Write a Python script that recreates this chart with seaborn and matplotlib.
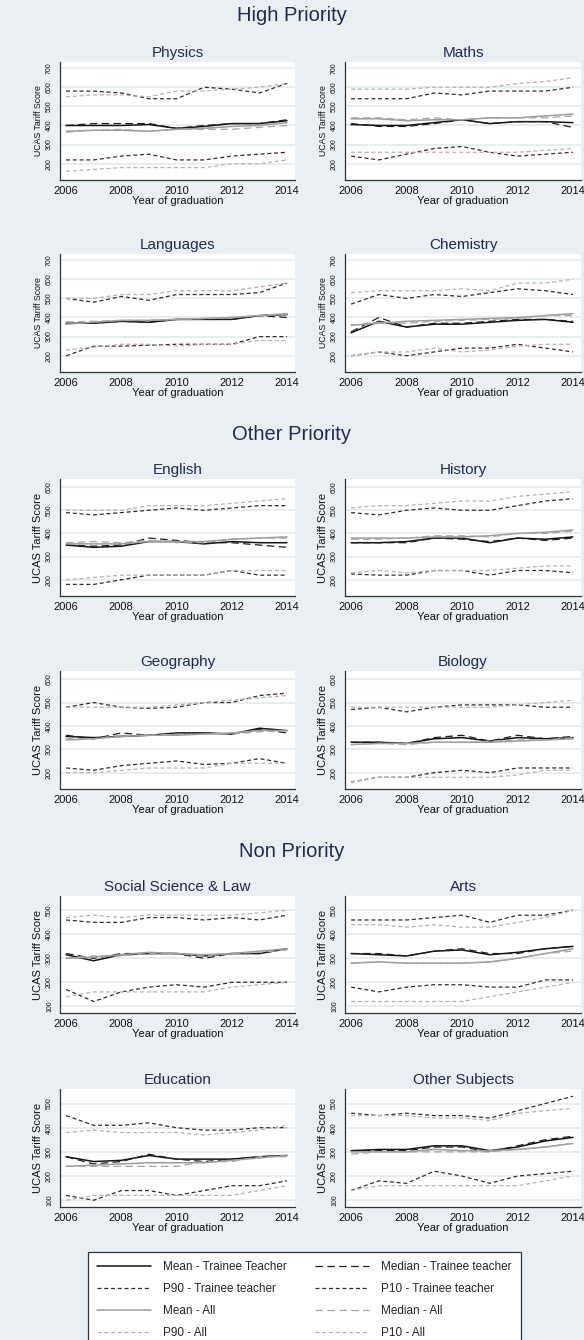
import matplotlib
matplotlib.use("Agg")
import matplotlib.pyplot as plt
from matplotlib.lines import Line2D
import pandas as pd
import seaborn as sns

# ---------------------------------------------------------------- data
years = [2006, 2007, 2008, 2009, 2010, 2011, 2012, 2013, 2014]

series_names = [
    "Mean - Trainee Teacher", "Median - Trainee teacher",
    "P90 - Trainee teacher", "P10 - Trainee teacher",
    "Mean - All", "Median - All", "P90 - All", "P10 - All",
]

# order of each block: mean TT, median TT, P90 TT, P10 TT, mean All, median All, P90 All, P10 All
physics_mean_tt = [400, 400, 400, 405, 385, 395, 410, 410, 425]
physics_median_tt = [400, 410, 410, 410, 385, 400, 410, 410, 430]
physics_p90_tt = [580, 580, 570, 540, 540, 600, 590, 570, 620]
physics_p10_tt = [220, 220, 240, 250, 220, 220, 240, 250, 260]
physics_mean_all = [370, 375, 375, 370, 380, 385, 395, 400, 415]
physics_median_all = [365, 375, 380, 370, 380, 380, 380, 390, 400]
physics_p90_all = [550, 560, 560, 550, 580, 580, 590, 600, 620]
physics_p10_all = [160, 170, 180, 180, 180, 180, 200, 200, 220]

maths_mean_tt = [405, 400, 400, 415, 430, 410, 420, 420, 415]
maths_median_tt = [410, 395, 395, 410, 430, 410, 420, 420, 390]
maths_p90_tt = [540, 540, 540, 570, 560, 580, 580, 580, 600]
maths_p10_tt = [240, 220, 250, 280, 290, 260, 240, 250, 260]
maths_mean_all = [435, 435, 425, 430, 430, 440, 440, 450, 460]
maths_median_all = [440, 440, 430, 440, 430, 440, 440, 440, 450]
maths_p90_all = [590, 590, 590, 600, 600, 600, 620, 630, 650]
maths_p10_all = [260, 260, 260, 260, 260, 260, 260, 270, 280]

languages_mean_tt = [370, 370, 380, 375, 390, 390, 390, 410, 415]
languages_median_tt = [375, 370, 380, 375, 390, 390, 390, 410, 400]
languages_p90_tt = [500, 480, 510, 490, 520, 520, 520, 530, 580]
languages_p10_tt = [200, 250, 250, 255, 260, 260, 260, 300, 300]
languages_mean_all = [365, 375, 385, 385, 390, 395, 400, 410, 420]
languages_median_all = [375, 380, 385, 385, 390, 395, 400, 410, 415]
languages_p90_all = [500, 500, 520, 520, 540, 540, 540, 560, 580]
languages_p10_all = [230, 245, 260, 260, 250, 260, 260, 280, 280]

chemistry_mean_tt = [320, 380, 350, 365, 365, 375, 385, 390, 375]
chemistry_median_tt = [325, 400, 350, 370, 370, 380, 390, 390, 380]
chemistry_p90_tt = [470, 520, 500, 520, 510, 530, 550, 540, 520]
chemistry_p10_tt = [200, 220, 200, 220, 240, 240, 260, 240, 220]
chemistry_mean_all = [360, 370, 380, 385, 390, 395, 400, 410, 420]
chemistry_median_all = [360, 375, 370, 380, 385, 390, 395, 410, 410]
chemistry_p90_all = [530, 540, 540, 540, 550, 540, 580, 580, 600]
chemistry_p10_all = [200, 220, 220, 240, 220, 230, 250, 260, 260]

english_mean_tt = [350, 340, 345, 365, 365, 355, 365, 360, 360]
english_median_tt = [350, 345, 350, 380, 370, 360, 360, 350, 340]
english_p90_tt = [490, 480, 490, 500, 510, 500, 510, 520, 520]
english_p10_tt = [180, 180, 200, 220, 220, 220, 240, 220, 220]
english_mean_all = [355, 355, 355, 365, 365, 365, 375, 380, 385]
english_median_all = [360, 365, 360, 370, 360, 360, 375, 380, 380]
english_p90_all = [500, 500, 500, 520, 520, 520, 530, 540, 550]
english_p10_all = [200, 210, 220, 220, 220, 220, 240, 240, 240]

history_mean_tt = [360, 360, 365, 380, 380, 360, 380, 375, 385]
history_median_tt = [360, 360, 360, 380, 375, 365, 380, 370, 380]
history_p90_tt = [490, 480, 500, 510, 500, 500, 520, 540, 550]
history_p10_tt = [225, 220, 220, 240, 240, 220, 240, 240, 230]
history_mean_all = [380, 380, 380, 385, 385, 390, 400, 405, 415]
history_median_all = [375, 375, 380, 390, 390, 385, 400, 400, 410]
history_p90_all = [510, 520, 520, 530, 540, 540, 560, 570, 580]
history_p10_all = [230, 240, 230, 240, 240, 240, 250, 260, 260]

geography_mean_tt = [355, 350, 355, 360, 370, 370, 365, 390, 380]
geography_median_tt = [360, 345, 370, 360, 365, 370, 365, 385, 370]
geography_p90_tt = [480, 500, 480, 475, 480, 500, 500, 530, 540]
geography_p10_tt = [220, 210, 230, 240, 250, 235, 240, 260, 240]
geography_mean_all = [340, 345, 355, 360, 360, 365, 370, 380, 380]
geography_median_all = [345, 345, 360, 360, 365, 365, 365, 375, 380]
geography_p90_all = [480, 480, 480, 480, 490, 500, 510, 520, 530]
geography_p10_all = [200, 200, 210, 220, 220, 220, 240, 240, 240]

biology_mean_tt = [330, 330, 325, 345, 350, 335, 350, 345, 350]
biology_median_tt = [330, 330, 325, 350, 360, 335, 360, 345, 355]
biology_p90_tt = [470, 480, 460, 480, 490, 490, 490, 480, 480]
biology_p10_tt = [160, 180, 180, 200, 210, 200, 220, 220, 220]
biology_mean_all = [320, 325, 325, 330, 330, 330, 335, 340, 345]
biology_median_all = [320, 325, 320, 330, 330, 335, 340, 340, 350]
biology_p90_all = [480, 480, 480, 480, 480, 480, 490, 500, 510]
biology_p10_all = [160, 180, 180, 180, 180, 180, 190, 210, 210]

socsci_mean_tt = [315, 290, 315, 320, 320, 310, 320, 320, 340]
socsci_median_tt = [320, 300, 320, 320, 320, 300, 320, 320, 340]
socsci_p90_tt = [460, 450, 450, 470, 470, 460, 470, 460, 480]
socsci_p10_tt = [170, 120, 160, 180, 190, 180, 200, 200, 200]
socsci_mean_all = [300, 305, 315, 325, 320, 315, 320, 330, 340]
socsci_median_all = [300, 310, 310, 320, 320, 310, 320, 325, 335]
socsci_p90_all = [470, 480, 470, 480, 480, 480, 480, 490, 500]
socsci_p10_all = [140, 160, 160, 160, 160, 160, 180, 190, 200]

arts_mean_tt = [320, 315, 310, 330, 335, 315, 325, 340, 350]
arts_median_tt = [320, 320, 310, 330, 340, 320, 320, 340, 350]
arts_p90_tt = [460, 460, 460, 470, 480, 450, 480, 480, 500]
arts_p10_tt = [180, 160, 180, 190, 190, 180, 180, 210, 210]
arts_mean_all = [280, 285, 280, 280, 280, 285, 300, 320, 340]
arts_median_all = [280, 285, 280, 280, 280, 285, 300, 320, 330]
arts_p90_all = [440, 440, 430, 440, 430, 430, 450, 470, 500]
arts_p10_all = [120, 120, 120, 120, 120, 140, 160, 180, 200]

education_mean_tt = [280, 260, 265, 285, 270, 270, 270, 280, 285]
education_median_tt = [280, 250, 260, 290, 270, 260, 270, 280, 285]
education_p90_tt = [450, 410, 410, 420, 400, 390, 390, 400, 400]
education_p10_tt = [120, 100, 140, 140, 120, 140, 160, 160, 180]
education_mean_all = [240, 245, 250, 255, 255, 255, 265, 275, 285]
education_median_all = [240, 240, 240, 240, 240, 260, 260, 280, 280]
education_p90_all = [380, 390, 380, 380, 380, 370, 380, 390, 410]
education_p10_all = [100, 120, 120, 120, 120, 120, 120, 140, 160]

other_mean_tt = [305, 310, 310, 325, 325, 305, 320, 345, 360]
other_median_tt = [305, 305, 305, 320, 320, 300, 325, 350, 365]
other_p90_tt = [460, 450, 460, 450, 450, 440, 470, 500, 530]
other_p10_tt = [140, 180, 170, 220, 200, 170, 200, 210, 220]
other_mean_all = [300, 300, 300, 310, 305, 305, 310, 320, 335]
other_median_all = [290, 300, 300, 300, 300, 300, 310, 320, 335]
other_p90_all = [450, 450, 450, 440, 440, 430, 460, 470, 480]
other_p10_all = [140, 160, 160, 160, 160, 160, 160, 180, 200]

section_titles = ["High Priority", "Other Priority", "Non Priority"]
subject_titles = ["Physics", "Maths", "Languages", "Chemistry",
                  "English", "History", "Geography", "Biology",
                  "Social Science & Law", "Arts", "Education", "Other Subjects"]
x_ticks = [2006, 2008, 2010, 2012, 2014]
y_ticks_high = [200, 300, 400, 500, 600, 700]
y_ticks_other = [200, 300, 400, 500, 600]
y_ticks_non = [100, 200, 300, 400, 500]

subject_series = {
    "Physics": [physics_mean_tt, physics_median_tt, physics_p90_tt, physics_p10_tt,
                physics_mean_all, physics_median_all, physics_p90_all, physics_p10_all],
    "Maths": [maths_mean_tt, maths_median_tt, maths_p90_tt, maths_p10_tt,
              maths_mean_all, maths_median_all, maths_p90_all, maths_p10_all],
    "Languages": [languages_mean_tt, languages_median_tt, languages_p90_tt, languages_p10_tt,
                  languages_mean_all, languages_median_all, languages_p90_all, languages_p10_all],
    "Chemistry": [chemistry_mean_tt, chemistry_median_tt, chemistry_p90_tt, chemistry_p10_tt,
                  chemistry_mean_all, chemistry_median_all, chemistry_p90_all, chemistry_p10_all],
    "English": [english_mean_tt, english_median_tt, english_p90_tt, english_p10_tt,
                english_mean_all, english_median_all, english_p90_all, english_p10_all],
    "History": [history_mean_tt, history_median_tt, history_p90_tt, history_p10_tt,
                history_mean_all, history_median_all, history_p90_all, history_p10_all],
    "Geography": [geography_mean_tt, geography_median_tt, geography_p90_tt, geography_p10_tt,
                  geography_mean_all, geography_median_all, geography_p90_all, geography_p10_all],
    "Biology": [biology_mean_tt, biology_median_tt, biology_p90_tt, biology_p10_tt,
                biology_mean_all, biology_median_all, biology_p90_all, biology_p10_all],
    "Social Science & Law": [socsci_mean_tt, socsci_median_tt, socsci_p90_tt, socsci_p10_tt,
                             socsci_mean_all, socsci_median_all, socsci_p90_all, socsci_p10_all],
    "Arts": [arts_mean_tt, arts_median_tt, arts_p90_tt, arts_p10_tt,
             arts_mean_all, arts_median_all, arts_p90_all, arts_p10_all],
    "Education": [education_mean_tt, education_median_tt, education_p90_tt, education_p10_tt,
                  education_mean_all, education_median_all, education_p90_all, education_p10_all],
    "Other Subjects": [other_mean_tt, other_median_tt, other_p90_tt, other_p10_tt,
                       other_mean_all, other_median_all, other_p90_all, other_p10_all],
}

# ---------------------------------------------------------------- style
sns.set_style("white")
plt.rcParams["font.family"] = ["Liberation Sans", "DejaVu Sans"]

BG = "#e9eff2"
NAVY = "#1f2c4d"
GRID = "#e4edf0"
AXIS = "#333333"

LONG = (0, (6.0, 3.5))
SHORT = (0, (3.2, 2.2))
line_styles = {
    "Mean - Trainee Teacher": dict(color="#141414", linewidth=1.1, linestyle="-"),
    "Median - Trainee teacher": dict(color="#1e1e1e", linewidth=0.9, linestyle=LONG),
    "P90 - Trainee teacher": dict(color="#2e2e2e", linewidth=0.9, linestyle=SHORT),
    "P10 - Trainee teacher": dict(color="#2e2e2e", linewidth=0.9, linestyle=SHORT),
    "Mean - All": dict(color="#9c9c9c", linewidth=1.1, linestyle="-"),
    "Median - All": dict(color="#a6a6a6", linewidth=0.9, linestyle=LONG),
    "P90 - All": dict(color="#b3b3b3", linewidth=0.9, linestyle=SHORT),
    "P10 - All": dict(color="#b3b3b3", linewidth=0.9, linestyle=SHORT),
}

W, H = 584, 1340
fig = plt.figure(figsize=(W / 100, H / 100), dpi=100, facecolor=BG)

col_x = [(60, 295), (345, 581)]
row_y = [(62, 180), (254, 372), (479, 596), (671, 789), (896, 1013), (1089, 1207)]
row_section = [0, 0, 1, 1, 2, 2]
section_limits = [(115, 732), (130, 635), (72, 560)]
section_yticks = [y_ticks_high, y_ticks_other, y_ticks_non]
section_ylabel_size = [6.3, 8, 8]


def add_panel(subject, row, col):
    x0, x1 = col_x[col]
    y0, y1 = row_y[row]
    ax = fig.add_axes([x0 / W, 1 - y1 / H, (x1 - x0) / W, (y1 - y0) / H])
    ax.set_facecolor("white")

    rows = []
    for name, vals in zip(series_names, subject_series[subject]):
        for yr, v in zip(years, vals):
            rows.append({"year": yr, "score": v, "series": name})
    df = pd.DataFrame(rows)

    sec = row_section[row]
    for gy in section_yticks[sec]:
        ax.axhline(gy, color=GRID, linewidth=1.3, zorder=0)

    for name in series_names:
        sns.lineplot(data=df[df["series"] == name], x="year", y="score", ax=ax,
                     legend=False, zorder=3, **line_styles[name])

    ax.set_xlim(2005.78, 2014.29)
    ax.set_ylim(*section_limits[sec])
    ax.set_xticks(x_ticks)
    ax.set_xticklabels([str(t) for t in x_ticks], fontsize=8)
    ax.set_yticks(section_yticks[sec])
    ax.set_yticklabels([str(t) for t in section_yticks[sec]], fontsize=5,
                       rotation=90, va="center")
    ax.tick_params(axis="both", direction="out", length=3, width=0.8, color=AXIS,
                   labelcolor="#111111")
    ax.tick_params(axis="x", pad=1.5)
    ax.tick_params(axis="y", pad=2)
    ax.set_xlabel("Year of graduation", fontsize=8, labelpad=0, color="#111111")
    ax.set_ylabel("UCAS Tariff Score", fontsize=section_ylabel_size[sec],
                  labelpad=2, color="#111111")
    ax.set_title(subject, fontsize=11, color=NAVY, pad=3.6)
    for side in ("top", "right"):
        ax.spines[side].set_visible(False)
    for side in ("left", "bottom"):
        ax.spines[side].set_color(AXIS)
        ax.spines[side].set_linewidth(0.9)
    return ax


for i, subject in enumerate(subject_titles):
    add_panel(subject, i // 2, i % 2)

# section headings (baseline positions)
for title, base in zip(section_titles, [21, 440, 857]):
    fig.text(0.5, 1 - base / H, title, ha="center", va="baseline",
             fontsize=14.5, color=NAVY)

# legend, filled row by row
order = [0, 2, 4, 6, 1, 3, 5, 7]
handles = [Line2D([], [], **line_styles[series_names[k]]) for k in order]
labels = [series_names[k] for k in order]
leg = fig.legend(handles, labels, ncol=2, loc="upper left",
                 bbox_to_anchor=(88 / W, 1 - 1252 / H), borderaxespad=0,
                 fontsize=8.5, handlelength=4.6, handletextpad=1.0,
                 columnspacing=2.4, labelspacing=0.85, borderpad=0.75,
                 frameon=True, fancybox=False, framealpha=1,
                 facecolor="white", edgecolor="#333333")
leg.get_frame().set_linewidth(0.9)

fig.savefig("out.png", dpi=100, facecolor=BG)
